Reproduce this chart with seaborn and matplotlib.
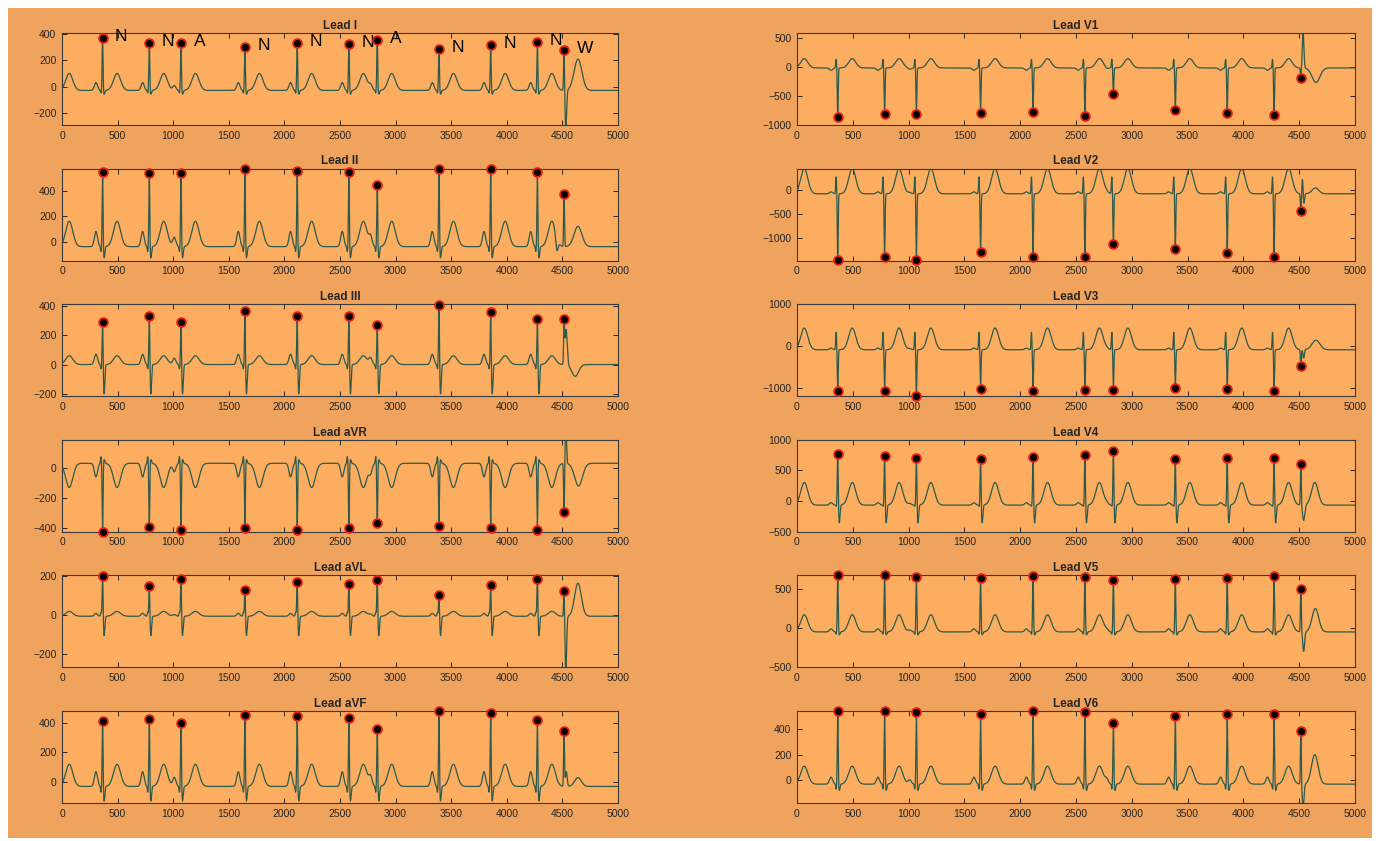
import numpy as np
import pandas as pd
import matplotlib
matplotlib.use("Agg")
import matplotlib.pyplot as plt
from matplotlib.patches import Rectangle
import seaborn as sns

# ---------------------------------------------------------------- data
n_samples = 5000
beat_pos = [365, 785, 1070, 1645, 2115, 2580, 2835, 3390, 3855, 4275, 4515]
beat_type = ["N", "N", "A", "N", "N", "N", "A", "N", "N", "N", "W"]
prev_beat = -65          # beat just before the record (only its T wave is visible)

lead_names = ["I", "II", "III", "aVR", "aVL", "aVF",
              "V1", "V2", "V3", "V4", "V5", "V6"]

# detected R-peak amplitudes, one value per beat
peak_I = [370, 337, 337, 304, 337, 325, 360, 291, 317, 342, 283]
peak_II = [545, 542, 537, 568, 558, 545, 446, 570, 568, 545, 377]
peak_III = [289, 327, 291, 367, 331, 327, 269, 404, 358, 307, 309]
peak_aVR = [-424, -391, -409, -398, -413, -396, -367, -382, -400, -407, -291]
peak_aVL = [202, 152, 187, 132, 170, 163, 180, 103, 157, 188, 123]
peak_aVF = [411, 427, 402, 455, 448, 430, 357, 482, 464, 420, 345]
peak_V1 = [-857, -806, -806, -789, -771, -846, -469, -743, -794, -823, -194]
peak_V2 = [-1450, -1395, -1455, -1280, -1380, -1390, -1120, -1225, -1305, -1380, -430]
peak_V3 = [-1085, -1085, -1194, -1016, -1070, -1062, -1062, -1000, -1039, -1085, -488]
peak_V4 = [770, 738, 710, 694, 727, 749, 814, 683, 705, 700, 601]
peak_V5 = [679, 683, 658, 650, 675, 658, 625, 637, 646, 675, 504]
peak_V6 = [540, 538, 532, 517, 538, 532, 444, 504, 517, 517, 387]
peaks = [peak_I, peak_II, peak_III, peak_aVR, peak_aVL, peak_aVF,
         peak_V1, peak_V2, peak_V3, peak_V4, peak_V5, peak_V6]

# wave amplitudes of a regular beat in each lead (relative to baseline)
baseline = [-30, -40, 0, 30, -5, -30, -20, -80, -90, -65, -45, -30]
p_amp = [60, 120, 70, -90, 15, 100, -40, 40, 40, 40, 40, 55]
q_amp = [-20, -40, -30, 45, 20, -40, 150, 350, 420, -20, -30, -40]
s_amp = [-30, -90, -200, 25, -100, -100, 0, 0, 0, -290, -40, -50]
t_amp = [130, 200, 60, -160, 25, 150, 160, 520, 520, 370, 220, 140]

# extra deflections of the wide (W) beat: (offset, width, amplitude)
wide_waves = [
    [(16, 7, -290), (125, 35, 240)],
    [(-65, 10, -100), (125, 35, 160)],
    [(18, 10, 240), (100, 30, -80)],
    [(16, 6, 230), (130, 35, -150)],
    [(16, 7, -280), (125, 30, 170)],
    [(20, 8, 100), (125, 30, 60)],
    [(20, 7, 620), (135, 35, -250)],
    [(14, 5, 300), (28, 5, -200), (130, 30, 120)],
    [(25, 6, -200), (135, 35, 230)],
    [(25, 10, -250), (125, 30, 370)],
    [(25, 8, -250), (130, 30, 300)],
    [(20, 8, -180), (125, 30, 230)],
]

y_limits = [(-295, 410), (-150, 575), (-215, 410), (-422, 185), (-268, 205), (-142, 480),
            (-1000, 580), (-1460, 440), (-1200, 1000), (-500, 1000), (-500, 680), (-177, 540)]
y_ticks = [[-200, 0, 200, 400], [0, 200, 400], [-200, 0, 200, 400], [-400, -200, 0],
           [-200, 0, 200], [0, 200, 400], [-1000, -500, 0, 500], [-1000, -500, 0],
           [-1000, 0, 1000], [-500, 0, 500, 1000], [-500, 0, 500], [0, 200, 400]]
x_ticks = list(range(0, 5001, 500))

# ---------------------------------------------------------------- signals
t = np.arange(n_samples)


def bump(center, width, amp):
    return amp * np.exp(-0.5 * ((t - center) / width) ** 2)


def build_lead(k):
    sig = np.full(n_samples, float(baseline[k]))
    sig += bump(prev_beat + 130, 32, t_amp[k])
    for pos, kind in zip(beat_pos, beat_type):
        if kind == "W":
            for off, w, a in wide_waves[k]:
                sig += bump(pos + off, w, a)
            continue
        sig += bump(pos - 60, 14, p_amp[k] * (0.6 if kind == "A" else 1.0))
        sig += bump(pos - 14, 4, q_amp[k])
        sig += bump(pos + 14, 6, s_amp[k])
        sig += bump(pos + 130, 32, t_amp[k])
    # R waves scaled so that the trace passes through each detected peak
    for pos, pk in zip(beat_pos, peaks[k]):
        sig += bump(pos, 4, pk - sig[pos])
    return sig


# ---------------------------------------------------------------- style
sns.set_style("ticks")
plt.rcParams["font.family"] = ["Liberation Sans", "DejaVu Sans"]

fig_bg = "#EFA35C"
ax_bg = "#FDAD60"
trace_col = "#2C5A4C"
text_col = "#262626"

fig = plt.figure(figsize=(13.78, 8.41), dpi=100, facecolor="white")
fig.patches.append(Rectangle((8 / 1378, 3 / 841), 1364 / 1378, 830 / 841,
                             transform=fig.transFigure, facecolor=fig_bg,
                             edgecolor="none", zorder=-10))

col_x = [62 / 1378, 797 / 1378]
col_w = [556 / 1378, 558 / 1378]
row_top = [33 + 135.6 * i for i in range(6)]
ax_h = 92

for k, name in enumerate(lead_names):
    col, row = divmod(k, 6)
    rect = [col_x[col], 1 - (row_top[row] + ax_h) / 841, col_w[col], ax_h / 841]
    ax = fig.add_axes(rect)
    ax.set_facecolor(ax_bg)

    sig = build_lead(k)
    df = pd.DataFrame({"sample": t, "value": sig})
    sns.lineplot(data=df, x="sample", y="value", ax=ax, color=trace_col,
                 linewidth=0.9, estimator=None)

    pk = pd.DataFrame({"sample": beat_pos, "value": peaks[k]})
    sns.scatterplot(data=pk, x="sample", y="value", ax=ax, s=40, color="black",
                    edgecolor="#E51E16", linewidth=1.3, zorder=4, clip_on=False)

    if name == "I":
        for pos, val, kind in zip(beat_pos, peaks[k], beat_type):
            ax.annotate(kind, (pos, val), xytext=(9, 1), textcoords="offset points",
                        ha="left", va="center", fontsize=12.5, color="black",
                        annotation_clip=False)

    ax.set_xlim(0, n_samples)
    ax.set_ylim(*y_limits[k])
    ax.set_xticks(x_ticks)
    ax.set_yticks(y_ticks[k])
    ax.set_xlabel("")
    ax.set_ylabel("")
    ax.set_title(f"Lead {name}", fontsize=8.5, fontweight="bold", color=text_col, pad=3)
    ax.tick_params(direction="in", top=True, right=True, length=3.5, width=0.7,
                   labelsize=7.5, colors=text_col, pad=4)
    for sp in ax.spines.values():
        sp.set_color("#3A3A3A")
        sp.set_linewidth(0.8)
        sp.set_visible(True)

fig.savefig("out.png", dpi=100, facecolor=fig.get_facecolor())
